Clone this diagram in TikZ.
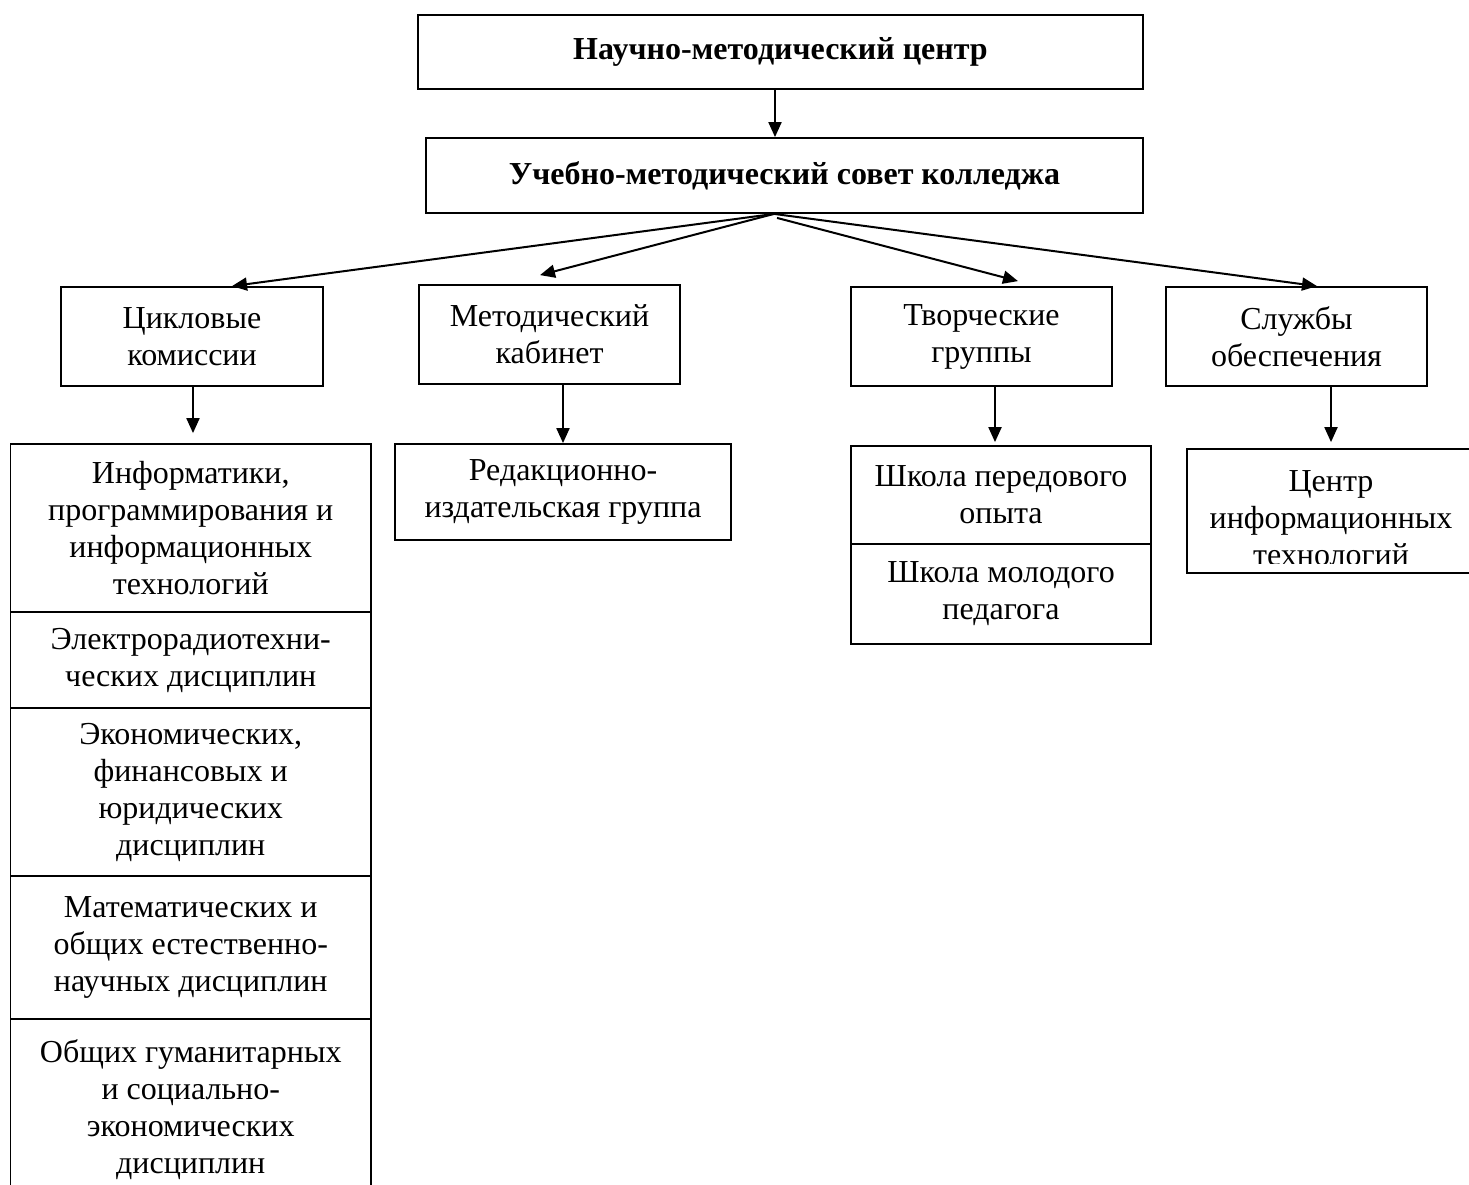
\documentclass[tikz,border=0pt]{standalone}
\usepackage{fontspec}
\setmainfont{Liberation Serif}
\usetikzlibrary{arrows.meta,calc}
\newcommand\fs{\fontsize{32}{37}\selectfont}
\begin{document}
\begin{tikzpicture}[x=1pt,y=-1pt,
  bx/.style 2 args={draw,line width=1.8pt,inner sep=0pt,align=center,font=\fs,
    minimum width=#1,minimum height=#2},
  bbx/.style 2 args={bx={#1}{#2},font=\fs\bfseries},
  arr/.style={line width=2pt,-{Triangle[length=15pt,width=13pt]}}]
\useasboundingbox (0,0) rectangle (1469,1184);
\clip (0,0) rectangle (1469,1184);
% top levels
\node[bbx={725}{74}] (nmc) at (780.5,52) {Научно-методический центр};
\node[bbx={717}{75}] (ums) at (784.5,175.5) {Учебно-методический совет колледжа};
% second row
\node[bx={262}{99}] (cik) at (192,336.5) {Цикловые\\комиссии};
\node[bx={261}{99}] (met) at (549.5,334.5) {Методический\\кабинет};
\node[bx={261}{99}] (tvo) at (981.5,336.5) {Творческие\\группы};
\node[bx={261}{99}] (slu) at (1296.5,336.5) {Службы\\обеспечения};
% left column
\node[bx={360.5}{168}] (c1) at (190.75,528) {Информатики,\\программирования и\\информационных\\технологий};
\node[bx={360.5}{96}] (c2) at (190.75,660) {Электрорадиотехни-\\ческих дисциплин};
\node[bx={360.5}{168}] (c3) at (190.75,792) {Экономических,\\финансовых и\\юридических\\дисциплин};
\node[bx={360.5}{143}] (c4) at (190.75,947.5) {Математических и\\общих естественно-\\научных дисциплин};
\node[bx={360.5}{181}] (c5) at (190.75,1109.5) {Общих гуманитарных\\и социально-\\экономических\\дисциплин};
% other third-level boxes
\node[bx={336}{96}] (red) at (563,492) {Редакционно-\\издательская группа};
\node[bx={300}{98}] (sh1) at (1001,495) {Школа передового\\опыта};
\node[bx={300}{100}] (sh2) at (1001,594) {Школа молодого\\педагога};
\node[bx={288}{124}] (cit) at (1331,511) {};
\begin{scope}
\clip (1180,440) rectangle (1480,563.5);
\node[font=\fs,align=center,inner sep=0pt] (citt) at (1331,518) {Центр\\информационных\\технологий};
\end{scope}
% arrows
\draw[arr] (nmc.south -| 775,0) -- (ums.north -| 775,0);
\coordinate (fan) at ($(ums.south)+(-10.5,0)$);
\draw[arr] (fan) -- ($(cik.north)+(40,0)$);
\draw[arr] (fan) -- ($(met.north)+(-9.5,-9)$);
\draw[arr] ($(fan)+(3,4)$) -- ($(tvo.north)+(36.5,-5)$);
\draw[arr] (fan) -- ($(slu.north)+(20.5,0)$);
\draw[arr] ($(cik.south)+(1,0)$) -- ($(c1.north)+(2.25,-10)$);
\draw[arr] (red.north |- met.south) -- (red.north);
\draw[arr] ($(sh1.north |- tvo.south)+(-6,0)$) -- ($(sh1.north)+(-6,-3)$);
\draw[arr] (cit.north |- slu.south) -- ($(cit.north)+(0,-6)$);
\end{tikzpicture}
\end{document}
